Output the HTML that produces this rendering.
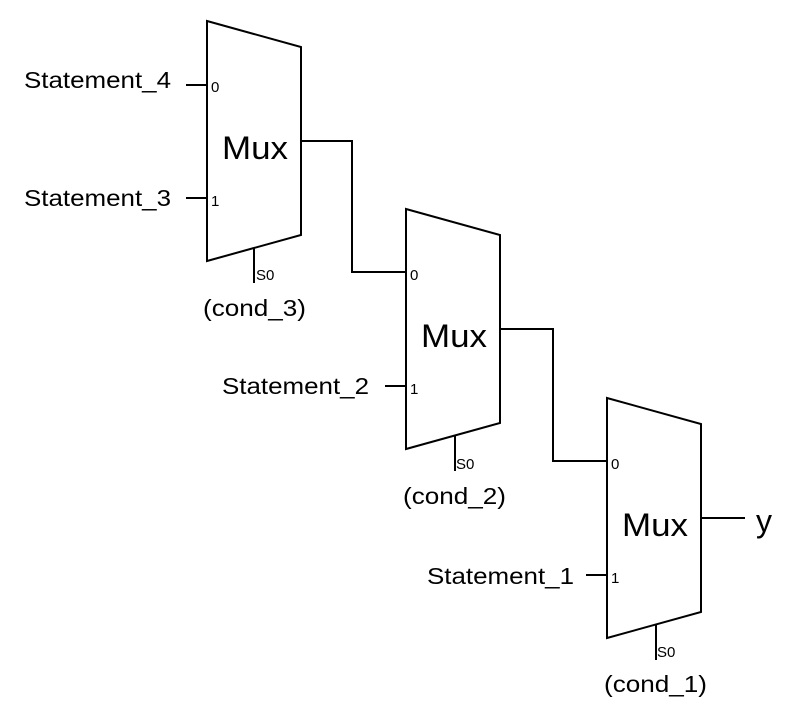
<!DOCTYPE html>
<html><head><style>body{margin:0;background:#fff}svg{display:block}</style></head><body>
<svg width="792" height="711" xmlns="http://www.w3.org/2000/svg" font-family="Liberation Sans, sans-serif">
<g stroke="#000" stroke-width="2" fill="none">
<path d="M207,21 L301,47 L301,235 L207,261 Z"/>
<path d="M406,209 L500,235 L500,423 L406,449 Z"/>
<path d="M607,398 L701,424 L701,612 L607,638 Z"/>
<path d="M186,85H207M186,198H207M254,248V283"/>
<path d="M385,386H406M455,436V471"/>
<path d="M586,575H607M656,625V660"/>
<path d="M301,141H352V272H406"/>
<path d="M500,329H553V461H607"/>
<path d="M701,518H745"/>
</g>
<g font-size="23" lengthAdjust="spacingAndGlyphs">
<text x="24" y="88" textLength="147" lengthAdjust="spacingAndGlyphs">Statement_4</text>
<text x="24" y="206" textLength="147" lengthAdjust="spacingAndGlyphs">Statement_3</text>
<text x="222" y="394" textLength="147" lengthAdjust="spacingAndGlyphs">Statement_2</text>
<text x="427" y="584" textLength="147" lengthAdjust="spacingAndGlyphs">Statement_1</text>
</g>
<g font-size="32">
<text x="222" y="159" textLength="66" lengthAdjust="spacingAndGlyphs">Mux</text>
<text x="421" y="347" textLength="66" lengthAdjust="spacingAndGlyphs">Mux</text>
<text x="622" y="536" textLength="66" lengthAdjust="spacingAndGlyphs">Mux</text>
</g>
<text x="756" y="532" font-size="32">y</text>
<g font-size="15">
<text x="211" y="92">0</text><text x="211" y="206">1</text><text x="256" y="280">S0</text>
<text x="410" y="280">0</text><text x="410" y="394">1</text><text x="456" y="469">S0</text>
<text x="611" y="469">0</text><text x="611" y="583">1</text><text x="657" y="657">S0</text>
</g>
<g font-size="23">
<text x="203" y="316" textLength="103" lengthAdjust="spacingAndGlyphs">(cond_3)</text>
<text x="403" y="504" textLength="103" lengthAdjust="spacingAndGlyphs">(cond_2)</text>
<text x="604" y="692" textLength="103" lengthAdjust="spacingAndGlyphs">(cond_1)</text>
</g>
</svg>
</body></html>
